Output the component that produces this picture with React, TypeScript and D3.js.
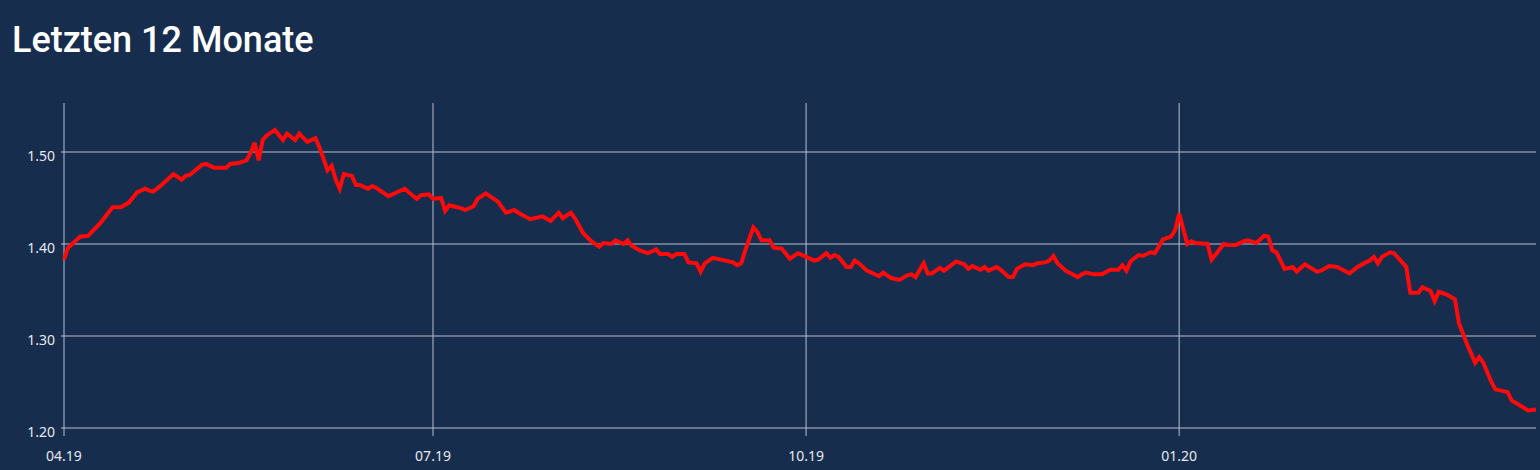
import React from "react";
import * as d3 from "d3";

const dayOffsets = [
  0, 1, 4, 6, 9, 12, 14, 16, 18, 20, 21, 22, 24, 27, 29, 30, 31, 34, 35, 37, 40, 41, 43, 45, 46, 47, 48, 49, 50, 52,
  54, 55, 57, 58, 60, 62, 63, 65, 66, 67, 68, 69, 71, 72, 73, 75, 76, 77, 80, 82, 84, 87, 88, 90,
  91, 93, 94, 95, 97, 99, 101, 102, 104, 107, 109, 111, 112, 115, 118, 120, 122, 123, 125, 126, 128, 130, 132, 133,
  135, 136, 138, 139, 140, 142, 144, 146, 147, 149, 150, 151, 153, 154, 156, 157, 158, 160, 162, 165, 166, 167, 168,
  170, 171, 172, 174, 175, 177, 179, 181, 183, 185,
  186, 188, 189, 190, 191, 193, 194, 195, 196, 198, 201, 202, 204, 206, 208, 209, 210, 212, 213, 214, 216, 217, 220,
  222, 223, 224, 226, 227, 228, 230, 231, 233, 234, 235, 237, 239, 240, 242, 243, 244, 245, 247, 250, 251, 252, 254,
  256, 258, 260, 261, 262, 263, 265, 266, 268, 269, 271, 273, 274, 275,
  277, 278, 279, 282, 283, 286, 287, 289, 291, 292, 294, 296, 297, 298, 299, 301, 303, 304, 306, 309, 310, 312, 314,
  317, 319, 321, 322, 323, 324, 325, 327, 328, 330, 331, 332, 334, 335, 337, 338, 339, 341, 343, 344, 346, 348, 349,
  350, 352, 353, 356, 357, 360, 361, 363,
];

const prices = [
  1.383, 1.396, 1.408, 1.409, 1.423, 1.44, 1.44, 1.445, 1.456, 1.46, 1.458, 1.457, 1.464, 1.476, 1.47, 1.474, 1.475, 1.486, 1.487, 1.483, 1.483, 1.487, 1.488, 1.491, 1.499, 1.51, 1.491, 1.513, 1.518, 1.524,
  1.513, 1.52, 1.513, 1.52, 1.511, 1.515, 1.505, 1.48, 1.485, 1.47, 1.46, 1.476, 1.474, 1.464, 1.464, 1.46, 1.463, 1.461, 1.452, 1.456, 1.46, 1.449, 1.453, 1.454,
  1.449, 1.45, 1.436, 1.442, 1.44, 1.437, 1.441, 1.449, 1.455, 1.446, 1.434, 1.437, 1.434, 1.427, 1.43, 1.425, 1.434, 1.428, 1.434, 1.428, 1.412, 1.403, 1.397, 1.401,
  1.4, 1.404, 1.4, 1.404, 1.398, 1.393, 1.39, 1.394, 1.389, 1.389, 1.386, 1.389, 1.389, 1.38, 1.379, 1.37, 1.379, 1.385, 1.383, 1.38, 1.377, 1.379, 1.393,
  1.418, 1.413, 1.404, 1.404, 1.396, 1.395, 1.384, 1.39, 1.386, 1.382,
  1.383, 1.39, 1.385, 1.388, 1.386, 1.375, 1.375, 1.382, 1.379, 1.371, 1.365, 1.369, 1.363, 1.361, 1.366, 1.367, 1.364, 1.379, 1.368, 1.368, 1.374, 1.371, 1.381,
  1.378, 1.373, 1.376, 1.372, 1.375, 1.371, 1.375, 1.372, 1.364, 1.364, 1.373, 1.378, 1.377, 1.379, 1.38, 1.382, 1.387, 1.379, 1.371, 1.364, 1.367, 1.369, 1.367,
  1.367, 1.372, 1.372, 1.377, 1.371, 1.381, 1.388, 1.387, 1.391, 1.39, 1.405, 1.408, 1.415, 1.433,
  1.4, 1.403, 1.401, 1.4, 1.383, 1.4, 1.399, 1.399, 1.403, 1.404, 1.401, 1.409, 1.408, 1.393, 1.391, 1.373, 1.375, 1.37, 1.378, 1.37, 1.371, 1.376, 1.375,
  1.368, 1.375, 1.38, 1.382, 1.386, 1.379, 1.386, 1.391, 1.39, 1.38, 1.375, 1.347, 1.347, 1.353, 1.349, 1.338, 1.348, 1.345, 1.34, 1.314, 1.291, 1.271, 1.277,
  1.271, 1.25, 1.242, 1.239, 1.23, 1.222, 1.219, 1.22,
];

const yTicks = [1.2, 1.3, 1.4, 1.5];
const xTickLabels = ["04.19", "07.19", "10.19", "01.20"];
const xTickDates = ["2019-04-01", "2019-07-01", "2019-10-01", "2020-01-01"];
const title = "Letzten 12 Monate";

const W = 1540;
const H = 470;
const LEFT = 64;
const RIGHT = 1536;
const TOP = 103;
const BOTTOM = 428;

const parse = d3.timeParse("%Y-%m-%d");
const start = parse("2019-04-01") as Date;

export default function App() {
  const data = dayOffsets.map((d, i) => ({ date: d3.timeDay.offset(start, d), v: prices[i] }));
  const x = d3
    .scaleTime()
    .domain([start, d3.timeDay.offset(start, 363)])
    .range([LEFT, RIGHT]);
  const y = d3.scaleLinear().domain([1.2, 1.5]).range([BOTTOM, 152]);
  const line = d3
    .line<{ date: Date; v: number }>()
    .x((d) => x(d.date))
    .y((d) => y(d.v));
  const fmt = d3.format(".2f");
  const grid = "#b8c0cc";
  const font = "'Noto Sans', 'Open Sans', sans-serif";

  return (
    <svg
      width={W}
      height={H}
      style={{ position: "absolute", left: 0, top: 0, display: "block" }}
    >
      <rect x={0} y={0} width={W} height={H} fill="#172d4d" />
      <text
        x={12}
        y={52}
        fill="#ffffff"
        fontFamily="Roboto, sans-serif"
        fontWeight={500}
        fontSize={36}
      >
        {title}
      </text>
      {yTicks.map((t) => (
        <g key={"y" + t}>
          <line x1={LEFT - 3} x2={RIGHT} y1={y(t)} y2={y(t)} stroke={grid} strokeWidth={1} />
          <text
            x={LEFT - 9}
            y={y(t) + 9}
            textAnchor="end"
            fill="#e6e9ee"
            fontFamily={font}
            fontSize={14}
          >
            {fmt(t)}
          </text>
        </g>
      ))}
      {xTickDates.map((ds, i) => {
        const px = x(parse(ds) as Date);
        return (
          <g key={"x" + ds}>
            <line x1={px} x2={px} y1={TOP} y2={BOTTOM + 8} stroke={grid} strokeWidth={1} />
            <text
              x={px}
              y={461}
              textAnchor="middle"
              fill="#e6e9ee"
              fontFamily={font}
              fontSize={14}
            >
              {xTickLabels[i]}
            </text>
          </g>
        );
      })}
      <path
        d={line(data) || ""}
        fill="none"
        stroke="#ff0a0a"
        strokeWidth={4}
        strokeLinejoin="miter"
        strokeMiterlimit={3}
      />
    </svg>
  );
}
